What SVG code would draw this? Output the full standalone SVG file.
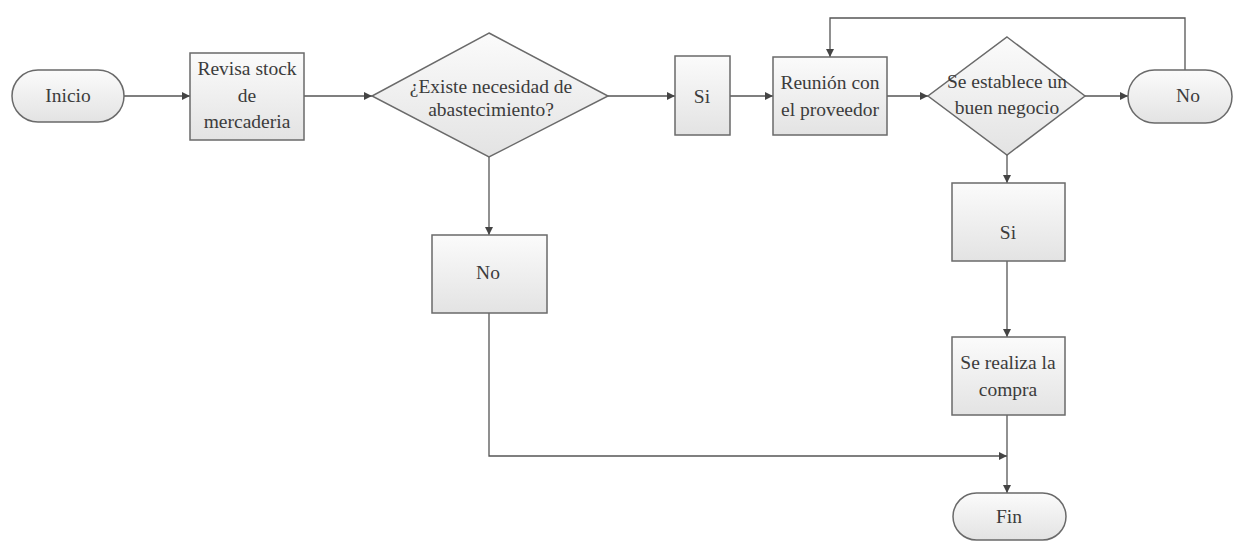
<svg xmlns="http://www.w3.org/2000/svg" width="1234" height="543" viewBox="0 0 1234 543">
<defs>
<linearGradient id="g" x1="0" y1="0" x2="0" y2="1">
<stop offset="0" stop-color="#fbfbfb"/>
<stop offset="1" stop-color="#e3e3e3"/>
</linearGradient>
<marker id="arr" viewBox="0 0 10 10" refX="10" refY="5" markerWidth="10" markerHeight="8" markerUnits="userSpaceOnUse" orient="auto">
<path d="M0,0 L10,5 L0,10 z" fill="#444"/>
</marker>
<style>
.s{fill:url(#g);stroke:#6a6a6a;stroke-width:1.5}
.t{font-family:"Liberation Serif","Times New Roman",serif;font-size:19.5px;fill:#3c3c3c;text-anchor:middle}
.c{fill:none;stroke:#555;stroke-width:1.3;marker-end:url(#arr)}
</style>
</defs>
<rect width="1234" height="543" fill="#fff"/>
<g id="connectors">
<path class="c" d="M124,96 H190"/>
<path class="c" d="M304,96 H372"/>
<path class="c" d="M608,96 H675"/>
<path class="c" d="M730,96 H773"/>
<path class="c" d="M887,96 H928"/>
<path class="c" d="M1085,96 H1128"/>
<path class="c" d="M1185,70 V18 H830 V57"/>
<path class="c" d="M489,157 V235"/>
<path class="c" d="M489,313 V456 H1007"/>
<path class="c" d="M1007,155 V183"/>
<path class="c" d="M1007,261 V337"/>
<path class="c" d="M1007,415 V493"/>
</g>
<g id="inicio">
<rect class="s" x="12" y="70" width="112" height="52" rx="26"/>
<text class="t" x="68" y="102">Inicio</text>
</g>
<g id="revisa">
<rect class="s" x="190" y="53" width="114" height="87"/>
<text class="t" x="247" y="75">Revisa stock</text>
<text class="t" x="247" y="102">de</text>
<text class="t" x="247" y="128">mercaderia</text>
</g>
<g id="decision1">
<polygon class="s" points="489,33 608,96 489,157 372,96"/>
<text class="t" x="491" y="93">¿Existe necesidad de</text>
<text class="t" x="491" y="116">abastecimiento?</text>
</g>
<g id="si1">
<rect class="s" x="675" y="56" width="55" height="79"/>
<text class="t" x="702" y="103">Si</text>
</g>
<g id="reunion">
<rect class="s" x="773" y="57" width="114" height="78"/>
<text class="t" x="830" y="89">Reunión con</text>
<text class="t" x="830" y="116">el proveedor</text>
</g>
<g id="decision2">
<polygon class="s" points="1007,37 1085,96 1007,155 928,96"/>
<text class="t" x="1007" y="88">Se establece un</text>
<text class="t" x="1007" y="114">buen negocio</text>
</g>
<g id="no2">
<rect class="s" x="1128" y="70" width="104" height="53" rx="26.5"/>
<text class="t" x="1188" y="102">No</text>
</g>
<g id="no1">
<rect class="s" x="432" y="235" width="115" height="78"/>
<text class="t" x="488" y="279">No</text>
</g>
<g id="si2">
<rect class="s" x="952" y="183" width="113" height="78"/>
<text class="t" x="1008" y="239">Si</text>
</g>
<g id="compra">
<rect class="s" x="952" y="337" width="113" height="78"/>
<text class="t" x="1008" y="369">Se realiza la</text>
<text class="t" x="1008" y="396">compra</text>
</g>
<g id="fin">
<rect class="s" x="953" y="493" width="113" height="47" rx="23.5"/>
<text class="t" x="1009" y="523">Fin</text>
</g>
</svg>
